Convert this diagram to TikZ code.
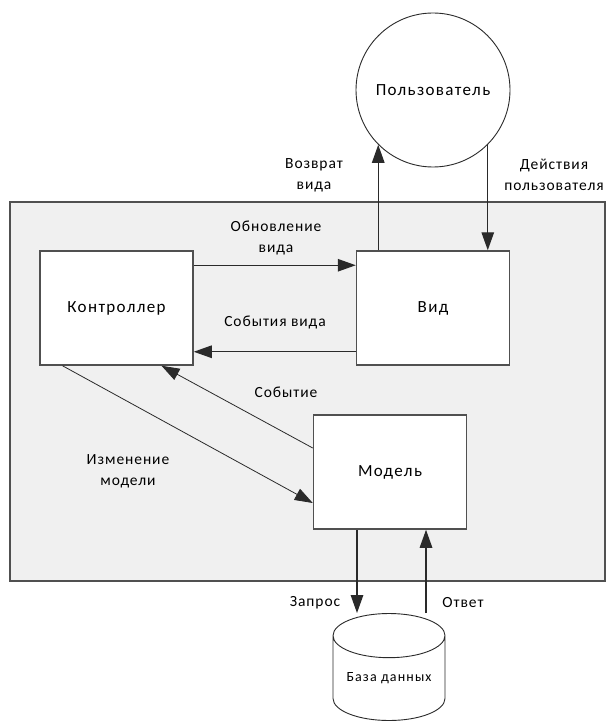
\documentclass[tikz,border=0pt]{standalone}
\usepackage{fontspec}
\setmainfont{Carlito}[LetterSpace=8]
\newfontfamily\lblfont{Carlito}[LetterSpace=6]
\usetikzlibrary{arrows.meta,positioning,shapes.geometric}
\definecolor{linegray}{HTML}{2A2A2A}
\definecolor{boxgray}{HTML}{505050}
\definecolor{panelgray}{HTML}{F0F0F0}
\tikzset{
  % white boxes of the MVC parts
  blk/.style   = {rectangle, draw=boxgray, fill=white, line width=1.5pt,
                  minimum width=153pt, minimum height=114pt, inner sep=0pt,
                  font=\fontsize{17}{20}\selectfont},
  circ/.style  = {circle, draw=linegray, fill=white, line width=0.9pt,
                  minimum size=154pt, inner sep=0pt, font=\fontsize{17}{20}\selectfont},
  dbase/.style = {cylinder, shape border rotate=90, aspect=0.52, draw=linegray,
                  fill=white, line width=0.9pt, minimum width=112pt, minimum height=107pt,
                  inner sep=0pt, anchor=shape center, font=\fontsize{14}{17}\selectfont},
  frame/.style = {draw=boxgray, fill=panelgray, line width=1.5pt},
  arr/.style   = {-{Triangle[length=18pt,width=12.5pt]}, line width=1.3pt, linegray},
  thin arr/.style = {-{Triangle[length=18pt,width=12.5pt]}, line width=0.8pt, linegray},
  lbl/.style   = {font=\lblfont\fontsize{15.5}{21}\selectfont, align=center, inner sep=0pt},
}
\begin{document}
\begin{tikzpicture}[x=1pt,y=-1pt]
\useasboundingbox (0,0) rectangle (606,722);
% application frame
\draw[frame] (10,202) rectangle (605,581);
% parts
\node[circ]  (user)  at (433,90)    {Пользователь};
\node[blk]   (ctrl)  at (116.5,308) {Контроллер};
\node[blk]   (view)  at (433,308)   {Вид};
\node[blk]   (model) at (390,472)   {Модель};
\node[dbase] (base)  at (389,667)   {База данных};
% user <-> view
\draw[arr] (view.north -| user.-135) -- (user.-135);
\draw[arr] (user.-45) -- (user.-45 |- view.north);
% controller <-> view
\draw[arr] ([yshift=-15pt]ctrl.north east) -- ([yshift=-15pt]view.north west);
\draw[arr] ([yshift=14pt]view.south west) -- ([yshift=14pt]ctrl.south east);
% controller <-> model
\draw[thin arr] ([yshift=24pt]model.west) -- ([xshift=45pt]ctrl.south);
\draw[thin arr] ([xshift=-54pt]ctrl.south) -- ([yshift=-31pt]model.west);
% model <-> database
\coordinate (req) at ([xshift=-33pt]model.south);
\coordinate (ans) at ([xshift=36pt]model.south);
\draw[arr] (req) -- (req |- base.north);
\draw[arr] (ans |- base.north) -- (ans);
% labels
\node[lbl] (lret)  at (314,175) {Возврат\\вида};
\node[lbl] (lact)  at (554,175) {Действия\\пользователя};
\node[lbl] (lupd)  at (276,238) {Обновление\\вида};
\node[lbl] (lev)   at (275,322) {События вида};
\node[lbl] (levm)  at (286,392) {Событие};
\node[lbl] (lchg)  at (128,471) {Изменение\\модели};
\node[lbl] (lreq)  at (315,603) {Запрос};
\node[lbl] (lans)  at (463,603) {Ответ};
\end{tikzpicture}
\end{document}
